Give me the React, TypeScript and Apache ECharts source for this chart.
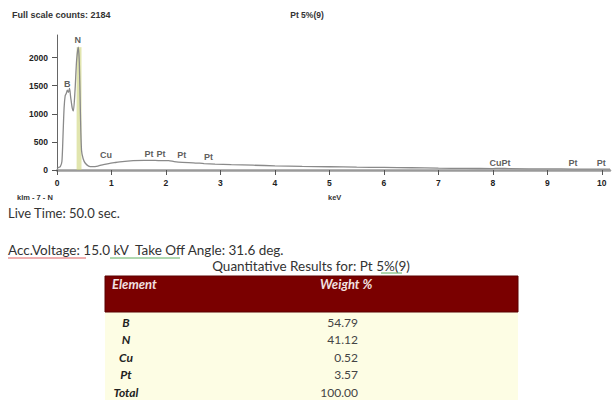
import React, { useEffect, useRef } from "react";
import * as echarts from "echarts";

// Spectrum (keV vs counts)
const energyKeV = [0.0, 0.02, 0.06, 0.09, 0.11, 0.13, 0.15, 0.17, 0.19, 0.21, 0.23, 0.25, 0.28, 0.3, 0.33, 0.36, 0.39, 0.41, 0.43, 0.45, 0.48, 0.52, 0.58, 0.65, 0.75, 0.85, 0.95, 1.05, 1.2, 1.4, 1.6, 1.8, 1.95, 2.05, 2.15, 2.3, 2.5, 2.7, 2.9, 3.2, 3.6, 4.0, 4.5, 5.0, 5.5, 6.0, 6.5, 7.0, 7.5, 8.0, 8.1, 8.3, 9.0, 9.5, 10.0, 10.15];
const counts = [30, 40, 60, 150, 600, 1100, 1320, 1360, 1420, 1380, 1450, 1300, 1100, 1050, 1400, 1950, 2184, 1900, 1000, 350, 200, 120, 70, 60, 70, 95, 115, 130, 150, 165, 172, 170, 165, 168, 150, 135, 128, 115, 105, 95, 85, 75, 65, 58, 50, 45, 40, 33, 28, 26, 30, 24, 20, 17, 15, 14];

// Peak identification labels
const peakNames = ["B", "N", "Cu", "Pt", "Pt", "Pt", "Pt", "CuPt", "Pt", "Pt"];
const peakKeV = [0.19, 0.38, 0.9, 1.69, 1.91, 2.29, 2.78, 8.13, 9.47, 9.99];
const peakLabelCounts = [1530, 2311, 267, 284, 284, 267, 231, 124, 124, 124];

// Axis ticks
const xTicks = [0, 1, 2, 3, 4, 5, 6, 7, 8, 9, 10];
const yTicks = [0, 500, 1000, 1500, 2000];

// Quantitative results table
const elements = ["B", "N", "Cu", "Pt", "Total"];
const weightPercent = ["54.79", "41.12", "0.52", "3.57", "100.00"];

const chartFont = "Liberation Sans";
const textFont = "Lato";

export default function App() {
  const ref = useRef<HTMLDivElement>(null);
  useEffect(() => {
    document.body.style.margin = "0";
    const chart = echarts.init(ref.current!, null, { renderer: "svg" });

    const tableGraphics: any[] = [];
    const rowY0 = 322;
    const rowStep = 17.5;
    elements.forEach((el, i) => {
      tableGraphics.push({
        type: "text",
        x: 126,
        y: rowY0 + i * rowStep,
        style: {
          text: el,
          fill: "#222",
          font: `italic bold 12px ${textFont}`,
          textAlign: "center",
          textVerticalAlign: "middle",
        },
      });
      tableGraphics.push({
        type: "text",
        x: 358,
        y: rowY0 + i * rowStep,
        style: {
          text: weightPercent[i],
          fill: "#444",
          font: `12px ${textFont}`,
          textAlign: "right",
          textVerticalAlign: "middle",
        },
      });
    });

    chart.setOption({
      animation: false,
      grid: { left: 57, right: 6, top: 35, bottom: 230 },
      xAxis: {
        type: "value",
        min: 0,
        max: 10.15,
        interval: 1,
        splitLine: { show: false },
        axisLine: { lineStyle: { color: "#9a9a9a", width: 2.5 } },
        axisTick: { customValues: xTicks, length: 5, lineStyle: { color: "#555" } },
        axisLabel: {
          customValues: xTicks,
          color: "#222",
          fontFamily: chartFont,
          fontWeight: "bold",
          fontSize: 8.5,
          margin: 8,
        },
      },
      yAxis: {
        type: "value",
        min: 0,
        max: 2400,
        interval: 500,
        splitLine: { show: false },
        axisLine: { show: true, lineStyle: { color: "#666", width: 1 } },
        axisTick: { show: true, customValues: yTicks, length: 5, lineStyle: { color: "#555" } },
        axisLabel: {
          customValues: yTicks,
          formatter: (v: number) => String(v),
          color: "#222",
          fontFamily: chartFont,
          fontWeight: "bold",
          fontSize: 8.5,
          margin: 9,
        },
      },
      series: [
        {
          type: "line",
          data: energyKeV.map((e, i) => [e, counts[i]]),
          showSymbol: false,
          smooth: 0.25,
          lineStyle: { color: "#8a8a8a", width: 1.3 },
          z: 3,
          markArea: {
            silent: true,
            itemStyle: { color: "rgba(205,212,120,0.6)" },
            data: [[{ xAxis: 0.36, yAxis: 0 }, { xAxis: 0.45, yAxis: 2184 }]],
          },
        },
        {
          type: "scatter",
          symbolSize: 0,
          silent: true,
          data: peakKeV.map((k, i) => ({ value: [k, peakLabelCounts[i]], name: peakNames[i] })),
          label: {
            show: true,
            position: "inside",
            formatter: "{b}",
            color: "#333",
            fontFamily: chartFont,
            fontWeight: "bold",
            fontSize: 9,
          },
          z: 4,
        },
      ],
      graphic: [
        {
          type: "text",
          x: 12,
          y: 15,
          style: {
            text: "Full scale counts: 2184",
            fill: "#333",
            font: `bold 9px ${chartFont}`,
            textVerticalAlign: "middle",
          },
        },
        {
          type: "text",
          x: 307,
          y: 15,
          style: {
            text: "Pt 5%(9)",
            fill: "#333",
            font: `bold 8.5px ${chartFont}`,
            textAlign: "center",
            textVerticalAlign: "middle",
          },
        },
        {
          type: "text",
          x: 17,
          y: 197,
          style: {
            text: "klm - 7 - N",
            fill: "#333",
            font: `bold 7.5px ${chartFont}`,
            textVerticalAlign: "middle",
          },
        },
        {
          type: "text",
          x: 328,
          y: 197,
          style: {
            text: "keV",
            fill: "#333",
            font: `bold 7.5px ${chartFont}`,
            textVerticalAlign: "middle",
          },
        },
        {
          type: "text",
          x: 8,
          y: 213,
          style: {
            text: "Live Time: 50.0 sec.",
            fill: "#333",
            font: `13px ${textFont}`,
            textVerticalAlign: "middle",
          },
        },
        {
          type: "text",
          x: 8,
          y: 250,
          style: {
            text: "Acc.Voltage: 15.0 kV  Take Off Angle: 31.6 deg.",
            fill: "#333",
            font: `13.5px ${textFont}`,
            textVerticalAlign: "middle",
          },
        },
        {
          type: "line",
          shape: { x1: 8, y1: 258, x2: 86, y2: 258 },
          style: { stroke: "#e06060", lineWidth: 1 },
        },
        {
          type: "line",
          shape: { x1: 110, y1: 258, x2: 180, y2: 258 },
          style: { stroke: "#60b060", lineWidth: 1 },
        },
        {
          type: "text",
          x: 311,
          y: 266,
          style: {
            text: "Quantitative Results for: Pt 5%(9)",
            fill: "#333",
            font: `13.5px ${textFont}`,
            textAlign: "center",
            textVerticalAlign: "middle",
          },
        },
        {
          type: "line",
          shape: { x1: 381, y1: 273, x2: 402, y2: 273 },
          style: { stroke: "#60b060", lineWidth: 1 },
        },
        {
          type: "rect",
          shape: { x: 105, y: 312, width: 413, height: 88 },
          style: { fill: "#fdfde4" },
        },
        {
          type: "rect",
          shape: { x: 105, y: 276, width: 413, height: 36 },
          style: { fill: "#7a0000", stroke: "#5a0000", lineWidth: 1 },
        },
        {
          type: "text",
          x: 112,
          y: 284,
          style: {
            text: "Element",
            fill: "#f2e0e0",
            font: `italic bold 13px ${textFont}`,
            textVerticalAlign: "middle",
          },
        },
        {
          type: "text",
          x: 320,
          y: 284,
          style: {
            text: "Weight %",
            fill: "#f2e0e0",
            font: `italic bold 13px ${textFont}`,
            textVerticalAlign: "middle",
          },
        },
        ...tableGraphics,
      ],
    });
    return () => chart.dispose();
  }, []);
  return <div ref={ref} style={{ width: 616, height: 400 }} />;
}
